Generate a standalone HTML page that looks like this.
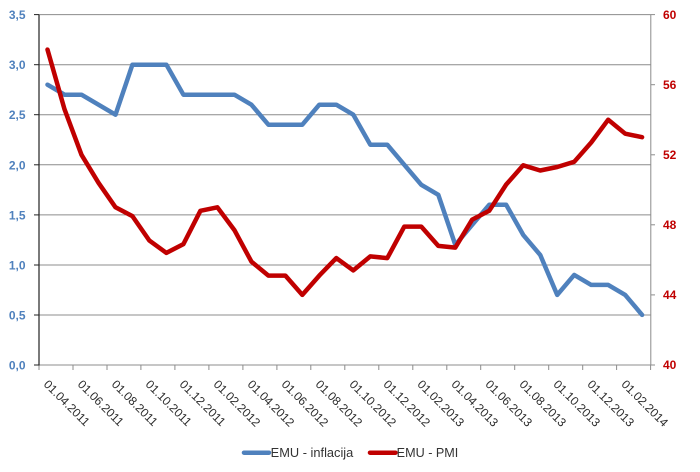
<!DOCTYPE html>
<html><head><meta charset="utf-8"><style>
html,body{margin:0;padding:0;background:#fff;}
svg{display:block;}
text{font-family:"Liberation Sans",Arial,sans-serif;}
</style></head><body>
<svg width="700" height="472" viewBox="0 0 700 472" xmlns="http://www.w3.org/2000/svg">
<rect width="700" height="472" fill="#fff"/>
<!-- gridlines -->
<g stroke="#8c8c8c" stroke-width="1">
<line x1="39" y1="14.6" x2="651" y2="14.6"/>
<line x1="39" y1="64.7" x2="651" y2="64.7"/>
<line x1="39" y1="114.7" x2="651" y2="114.7"/>
<line x1="39" y1="164.8" x2="651" y2="164.8"/>
<line x1="39" y1="214.9" x2="651" y2="214.9"/>
<line x1="39" y1="265.0" x2="651" y2="265.0"/>
<line x1="39" y1="315.0" x2="651" y2="315.0"/>
</g>
<!-- bottom axis -->
<line x1="39" y1="365" x2="651" y2="365" stroke="#8c8c8c" stroke-width="1"/>
<g stroke="#8c8c8c" stroke-width="1">
<line x1="39" y1="365" x2="39" y2="370"/><line x1="73" y1="365" x2="73" y2="370"/><line x1="107" y1="365" x2="107" y2="370"/><line x1="140.9" y1="365" x2="140.9" y2="370"/><line x1="174.9" y1="365" x2="174.9" y2="370"/><line x1="208.9" y1="365" x2="208.9" y2="370"/><line x1="242.9" y1="365" x2="242.9" y2="370"/><line x1="276.9" y1="365" x2="276.9" y2="370"/><line x1="310.8" y1="365" x2="310.8" y2="370"/><line x1="344.8" y1="365" x2="344.8" y2="370"/><line x1="378.8" y1="365" x2="378.8" y2="370"/><line x1="412.8" y1="365" x2="412.8" y2="370"/><line x1="446.8" y1="365" x2="446.8" y2="370"/><line x1="480.7" y1="365" x2="480.7" y2="370"/><line x1="514.7" y1="365" x2="514.7" y2="370"/><line x1="548.7" y1="365" x2="548.7" y2="370"/><line x1="582.7" y1="365" x2="582.7" y2="370"/><line x1="616.6" y1="365" x2="616.6" y2="370"/><line x1="650.6" y1="365" x2="650.6" y2="370"/>
</g>
<!-- left axis -->
<line x1="39" y1="14.6" x2="39" y2="365.5" stroke="#222" stroke-width="1.2"/>
<g stroke="#222" stroke-width="1">
<line x1="34" y1="14.6" x2="39" y2="14.6"/><line x1="34" y1="64.7" x2="39" y2="64.7"/><line x1="34" y1="114.7" x2="39" y2="114.7"/><line x1="34" y1="164.8" x2="39" y2="164.8"/><line x1="34" y1="214.9" x2="39" y2="214.9"/><line x1="34" y1="265" x2="39" y2="265"/><line x1="34" y1="315" x2="39" y2="315"/><line x1="34" y1="365" x2="39" y2="365"/>
</g>
<!-- right axis -->
<line x1="650.8" y1="14.6" x2="650.8" y2="365.5" stroke="#8c8c8c" stroke-width="1"/>
<g stroke="#8c8c8c" stroke-width="1">
<line x1="651" y1="14.6" x2="655" y2="14.6"/><line x1="651" y1="84.7" x2="655" y2="84.7"/><line x1="651" y1="154.8" x2="655" y2="154.8"/><line x1="651" y1="224.8" x2="655" y2="224.8"/><line x1="651" y1="294.9" x2="655" y2="294.9"/><line x1="651" y1="365" x2="655" y2="365"/>
</g>
<!-- left labels -->
<g fill="#4F81BD" font-size="12" font-weight="bold" text-anchor="end">
<text x="25.5" y="19.1">3,5</text>
<text x="25.5" y="69.2">3,0</text>
<text x="25.5" y="119.2">2,5</text>
<text x="25.5" y="169.3">2,0</text>
<text x="25.5" y="219.4">1,5</text>
<text x="25.5" y="269.5">1,0</text>
<text x="25.5" y="319.5">0,5</text>
<text x="25.5" y="369.5">0,0</text>
</g>
<!-- right labels -->
<g fill="#C00000" font-size="12" font-weight="bold">
<text x="663" y="18.8">60</text>
<text x="663" y="88.9">56</text>
<text x="663" y="159">52</text>
<text x="663" y="229">48</text>
<text x="663" y="299.1">44</text>
<text x="663" y="369.2">40</text>
</g>
<!-- x labels -->
<g fill="#2a2a2a" font-size="12">
<text transform="translate(43,385) rotate(45)">01.04.2011</text>
<text transform="translate(77,385) rotate(45)">01.06.2011</text>
<text transform="translate(111,385) rotate(45)">01.08.2011</text>
<text transform="translate(144.9,385) rotate(45)">01.10.2011</text>
<text transform="translate(178.9,385) rotate(45)">01.12.2011</text>
<text transform="translate(212.9,385) rotate(45)">01.02.2012</text>
<text transform="translate(246.9,385) rotate(45)">01.04.2012</text>
<text transform="translate(280.9,385) rotate(45)">01.06.2012</text>
<text transform="translate(314.9,385) rotate(45)">01.08.2012</text>
<text transform="translate(348.8,385) rotate(45)">01.10.2012</text>
<text transform="translate(382.8,385) rotate(45)">01.12.2012</text>
<text transform="translate(416.8,385) rotate(45)">01.02.2013</text>
<text transform="translate(450.8,385) rotate(45)">01.04.2013</text>
<text transform="translate(484.8,385) rotate(45)">01.06.2013</text>
<text transform="translate(518.7,385) rotate(45)">01.08.2013</text>
<text transform="translate(552.7,385) rotate(45)">01.10.2013</text>
<text transform="translate(586.7,385) rotate(45)">01.12.2013</text>
<text transform="translate(620.7,385) rotate(45)">01.02.2014</text>
</g>
<!-- blue series -->
<polyline fill="none" stroke="#4F81BD" stroke-width="4.5" stroke-linejoin="round" stroke-linecap="round" points="47.5,84.7 64.5,94.7 81.5,94.7 98.5,104.7 115.5,114.7 132.4,64.7 149.4,64.7 166.4,64.7 183.4,94.7 200.4,94.7 217.4,94.7 234.4,94.7 251.4,104.7 268.4,124.7 285.4,124.7 302.3,124.7 319.3,104.7 336.3,104.7 353.3,114.7 370.3,144.7 387.3,144.7 404.3,164.8 421.3,184.8 438.3,194.8 455.3,244.9 472.2,224.8 489.2,204.8 506.2,204.8 523.2,234.9 540.2,254.9 557.2,294.9 574.2,274.9 591.2,284.9 608.2,284.9 625.2,294.9 642.1,314.9"/>
<!-- red series -->
<polyline fill="none" stroke="#C00000" stroke-width="4.5" stroke-linejoin="round" stroke-linecap="round" points="47.5,49.6 64.5,109.2 81.5,154.8 98.5,182.8 115.5,207.3 132.4,216.1 149.4,240.6 166.4,252.9 183.4,244.1 200.4,210.8 217.4,207.3 234.4,230.1 251.4,261.6 268.4,275.6 285.4,275.6 302.3,294.9 319.3,275.6 336.3,258.1 353.3,270.4 370.3,256.4 387.3,258.1 404.3,226.6 421.3,226.6 438.3,245.9 455.3,247.6 472.2,219.6 489.2,210.8 506.2,184.5 523.2,165.3 540.2,170.5 557.2,167 574.2,161.8 591.2,142.5 608.2,119.7 625.2,133.7 642.1,137.2"/>
<!-- legend -->
<line x1="244" y1="452.7" x2="269" y2="452.7" stroke="#4F81BD" stroke-width="4.5" stroke-linecap="round"/>
<text x="270.7" y="457" font-size="12.5" fill="#333" textLength="82.6" lengthAdjust="spacingAndGlyphs">EMU - inflacija</text>
<line x1="370" y1="452.7" x2="395.5" y2="452.7" stroke="#C00000" stroke-width="4.5" stroke-linecap="round"/>
<text x="396.7" y="457" font-size="12.5" fill="#333" textLength="61.6" lengthAdjust="spacingAndGlyphs">EMU - PMI</text>
</svg>
</body></html>
